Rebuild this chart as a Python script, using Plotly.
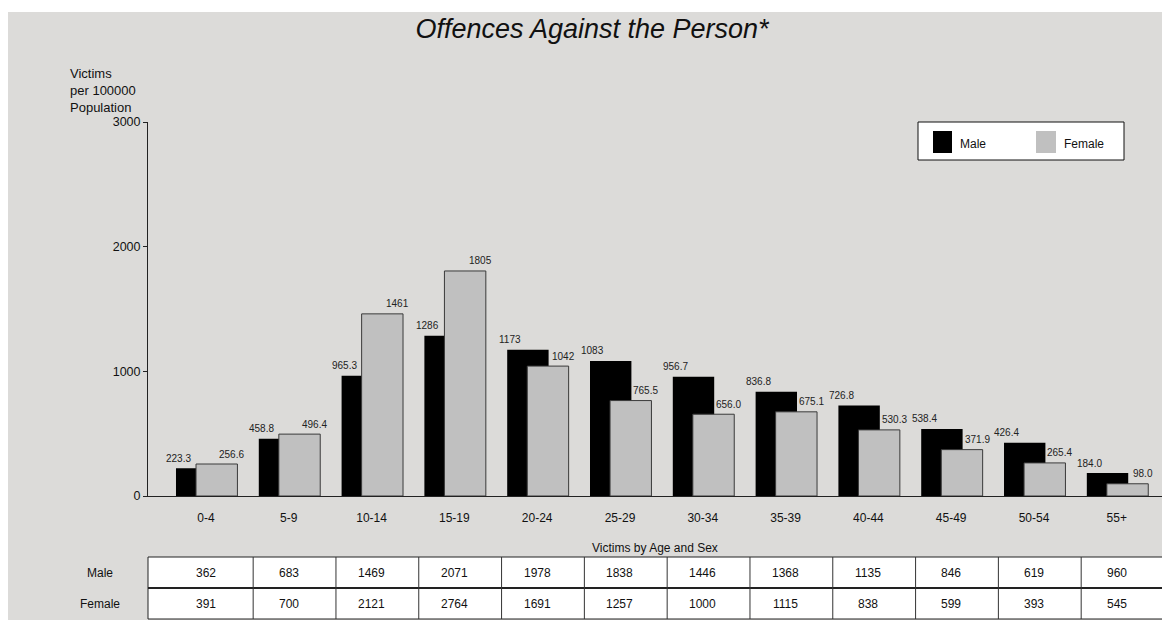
import plotly.graph_objects as go

# ---- data ----
age_groups = ["0-4", "5-9", "10-14", "15-19", "20-24", "25-29",
              "30-34", "35-39", "40-44", "45-49", "50-54", "55+"]
male_rate = [223.3, 458.8, 965.3, 1286, 1173, 1083, 956.7, 836.8, 726.8, 538.4, 426.4, 184.0]
female_rate = [256.6, 496.4, 1461, 1805, 1042, 765.5, 656.0, 675.1, 530.3, 371.9, 265.4, 98.0]
male_count = [362, 683, 1469, 2071, 1978, 1838, 1446, 1368, 1135, 846, 619, 960]
female_count = [391, 700, 2121, 2764, 1691, 1257, 1000, 1115, 838, 599, 393, 545]
y_ticks = [0, 1000, 2000, 3000]

FONT = "Liberation Sans, Arial, sans-serif"
BG = "#dcdbd9"
W, H = 1162, 620
ML, MR, MT, MB = 148, 0, 122, 124
PW = W - ML - MR
PH = H - MT - MB


def px_x(X):  # pixel -> paper x
    return (X - ML) / PW


def px_y(Y):  # pixel -> paper y
    return (H - MB - Y) / PH


def fmt(v):
    return f"{v:.0f}" if v >= 1000 else f"{v:.1f}"


fig = go.Figure()
fig.add_trace(go.Bar(
    x=age_groups, y=male_rate, name="Male",
    marker=dict(color="black", line=dict(width=0)),
    width=0.5, offset=-0.362, hoverinfo="x+y"))
fig.add_trace(go.Bar(
    x=age_groups, y=female_rate, name="Female",
    marker=dict(color="#c0c0c0", line=dict(color="#3a3a3a", width=1)),
    width=0.5, offset=-0.12, hoverinfo="x+y"))

annotations = []
for g, m, f in zip(age_groups, male_rate, female_rate):
    annotations.append(dict(x=g, y=m, xref="x", yref="y", text=fmt(m), showarrow=False,
                            xshift=-27, yshift=10, xanchor="center", yanchor="middle",
                            font=dict(family=FONT, size=10, color="#222")))
    annotations.append(dict(x=g, y=f, xref="x", yref="y", text=fmt(f), showarrow=False,
                            xshift=26, yshift=10, xanchor="center", yanchor="middle",
                            font=dict(family=FONT, size=10, color="#222")))

# y axis title (multi-line, top-left)
annotations.append(dict(x=px_x(68), y=px_y(64), xref="paper", yref="paper",
                        xanchor="left", yanchor="top", align="left", showarrow=False,
                        text="Victims<br>per 100000<br>Population",
                        font=dict(family=FONT, size=13, color="#111")))
# x axis caption
annotations.append(dict(x=px_x(655), y=px_y(548), xref="paper", yref="paper",
                        xanchor="center", yanchor="middle",
                        showarrow=False, text="Victims by Age and Sex",
                        font=dict(family=FONT, size=12, color="#111")))

# ---- table ----
tbl_top, tbl_mid, tbl_bot = 557, 588, 619
row_male_y, row_female_y = 573, 604
shapes = []
shapes.append(dict(type="rect", xref="paper", yref="paper", x0=0, x1=1.01,
                   y0=px_y(tbl_top), y1=px_y(tbl_bot), fillcolor="white",
                   line=dict(width=0), layer="above"))
for Y, w in [(tbl_top, 1), (tbl_mid, 2), (tbl_bot, 1)]:
    shapes.append(dict(type="line", xref="paper", yref="paper", x0=0, x1=1.01,
                       y0=px_y(Y), y1=px_y(Y), line=dict(color="#222", width=w)))
shapes.append(dict(type="line", xref="paper", yref="paper", x0=0, x1=0,
                   y0=px_y(tbl_top), y1=px_y(tbl_bot), line=dict(color="#222", width=1)))
for i in range(len(age_groups) - 1):
    shapes.append(dict(type="line", xref="x", yref="paper", x0=i + 0.57, x1=i + 0.57,
                       y0=px_y(tbl_top), y1=px_y(tbl_bot), line=dict(color="#333", width=1)))
cell_font = dict(family=FONT, size=12, color="#111")
for g, mc, fc in zip(age_groups, male_count, female_count):
    annotations.append(dict(x=g, y=px_y(row_male_y), xref="x", yref="paper", text=str(mc),
                            xanchor="center", yanchor="middle", showarrow=False, font=cell_font))
    annotations.append(dict(x=g, y=px_y(row_female_y), xref="x", yref="paper", text=str(fc),
                            xanchor="center", yanchor="middle", showarrow=False, font=cell_font))
annotations.append(dict(x=px_x(100), y=px_y(row_male_y), xref="paper", yref="paper",
                        xanchor="center", yanchor="middle",
                        text="Male", showarrow=False, font=cell_font))
annotations.append(dict(x=px_x(100), y=px_y(row_female_y), xref="paper", yref="paper",
                        xanchor="center", yanchor="middle",
                        text="Female", showarrow=False, font=cell_font))

# ---- legend (drawn) ----
shapes.append(dict(type="rect", xref="paper", yref="paper", x0=px_x(918), x1=px_x(1124),
                   y0=px_y(160), y1=px_y(122), fillcolor="white",
                   line=dict(color="#111", width=1), layer="above"))
shapes.append(dict(type="rect", xref="paper", yref="paper", x0=px_x(933), x1=px_x(952),
                   y0=px_y(153), y1=px_y(131), fillcolor="black", line=dict(width=0), layer="above"))
shapes.append(dict(type="rect", xref="paper", yref="paper", x0=px_x(1036), x1=px_x(1056),
                   y0=px_y(153), y1=px_y(131), fillcolor="#c0c0c0", line=dict(width=0), layer="above"))
annotations.append(dict(x=px_x(958), y=px_y(144), xref="paper", yref="paper", xanchor="left",
                        yanchor="middle", text="Male", showarrow=False, font=cell_font))
annotations.append(dict(x=px_x(1062), y=px_y(144), xref="paper", yref="paper", xanchor="left",
                        yanchor="middle", text="Female", showarrow=False, font=cell_font))

# ---- white outer border (top and left) ----
shapes.append(dict(type="rect", xref="paper", yref="paper", x0=px_x(-2), x1=px_x(W + 2),
                   y0=px_y(12), y1=px_y(-2), fillcolor="white", line=dict(width=0), layer="below"))
shapes.append(dict(type="rect", xref="paper", yref="paper", x0=px_x(-2), x1=px_x(8),
                   y0=px_y(H + 2), y1=px_y(-2), fillcolor="white", line=dict(width=0), layer="below"))

fig.update_layout(
    width=W, height=H,
    margin=dict(l=ML, r=MR, t=MT, b=MB, pad=0),
    paper_bgcolor=BG, plot_bgcolor=BG,
    barmode="overlay", showlegend=False,
    title=dict(text="<i>Offences Against the Person*</i>", x=592 / W, xanchor="center",
               y=1 - 29 / H, yanchor="middle", yref="container",
               font=dict(family=FONT, size=27, color="#111")),
    font=dict(family=FONT, size=12, color="#111"),
    xaxis=dict(type="category", categoryorder="array", categoryarray=age_groups,
               range=[-0.70, 11.546], showline=True, linecolor="#222", linewidth=1,
               ticks="", showgrid=False, zeroline=False, ticklabelstandoff=11,
               tickfont=dict(family=FONT, size=12, color="#111"), fixedrange=True),
    yaxis=dict(range=[0, 3000], tickvals=y_ticks, showline=True, linecolor="#222",
               linewidth=1, ticks="outside", ticklen=4, tickcolor="#222",
               showgrid=False, zeroline=False,
               tickfont=dict(family=FONT, size=12.5, color="#111"), fixedrange=True),
    annotations=annotations, shapes=shapes,
)

fig.write_html("out.html", config={"displayModeBar": False},
               post_script="document.body.style.margin='0';document.body.style.overflow='hidden';")
